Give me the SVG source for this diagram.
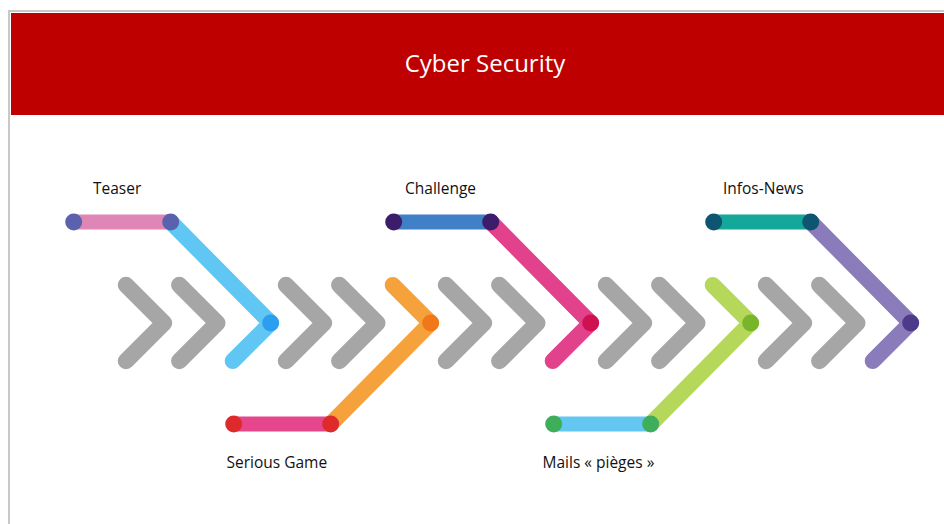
<svg xmlns="http://www.w3.org/2000/svg" width="944" height="524" viewBox="0 0 944 524">
<style>
.chev{fill:none;stroke:#a6a6a6;stroke-width:16.5;stroke-linecap:round;stroke-linejoin:round}
.arm{fill:none;stroke-width:16;stroke-linecap:round;stroke-linejoin:round}
.bar{fill:none;stroke-width:15;stroke-linecap:round}
.lbl{font-family:"Open Sans","Liberation Sans",sans-serif;font-size:15.5px;fill:#111}
.title{font-family:"Open Sans","Liberation Sans",sans-serif;font-size:24px;fill:#fff}
</style>
<rect x="0" y="0" width="944" height="524" fill="#fff"/>
<g id="frame">
<line x1="9" y1="11" x2="944" y2="11" stroke="#c8c8c8" stroke-width="2"/>
<line x1="9" y1="10" x2="9" y2="524" stroke="#c8c8c8" stroke-width="2"/>
<rect x="11" y="13" width="933" height="102" fill="#bf0000"/>
</g>
<g id="title"><text class="title" x="485" y="72" text-anchor="middle">Cyber Security</text></g>
<g id="connectors">
<path class="chev" d="M126,285 L164,323 L126,361"/>
<path class="chev" d="M179.3,285 L217.3,323 L179.3,361"/>
<path class="chev" d="M286,285 L324,323 L286,361"/>
<path class="chev" d="M339.3,285 L377.3,323 L339.3,361"/>
<path class="chev" d="M446,285 L484,323 L446,361"/>
<path class="chev" d="M499.3,285 L537.3,323 L499.3,361"/>
<path class="chev" d="M606,285 L644,323 L606,361"/>
<path class="chev" d="M659.3,285 L697.3,323 L659.3,361"/>
<path class="chev" d="M766,285 L804,323 L766,361"/>
<path class="chev" d="M819.3,285 L857.3,323 L819.3,361"/>
</g>
<g id="teaser">
<line class="bar" x1="73.7" y1="222" x2="170.7" y2="222" stroke="#df86b6"/>
<path class="arm" d="M170.7,222 L270.7,323 L232.7,361" stroke="#60c6f3"/>
<circle cx="73.7" cy="222" r="8.5" fill="#5a62ad"/>
<circle cx="170.7" cy="222" r="8.5" fill="#5a62ad"/>
<circle cx="270.7" cy="323" r="8.5" fill="#2b9ef0"/>
<text class="lbl" x="93" y="194">Teaser</text>
</g>
<g id="serious-game">
<line class="bar" x1="233.7" y1="424" x2="330.7" y2="424" stroke="#e6468c"/>
<path class="arm" d="M330.7,424 L430.7,323 L392.7,285" stroke="#f6a23c"/>
<circle cx="233.7" cy="424" r="8.5" fill="#df2a2c"/>
<circle cx="330.7" cy="424" r="8.5" fill="#df2a2c"/>
<circle cx="430.7" cy="323" r="8.5" fill="#f07818"/>
<text class="lbl" x="226.5" y="468">Serious Game</text>
</g>
<g id="challenge">
<line class="bar" x1="393.7" y1="222" x2="490.7" y2="222" stroke="#3f80c6"/>
<path class="arm" d="M490.7,222 L590.7,323 L552.7,361" stroke="#e2418c"/>
<circle cx="393.7" cy="222" r="8.5" fill="#3b1d6c"/>
<circle cx="490.7" cy="222" r="8.5" fill="#3b1d6c"/>
<circle cx="590.7" cy="323" r="8.5" fill="#d0114f"/>
<text class="lbl" x="405" y="194">Challenge</text>
</g>
<g id="mails">
<line class="bar" x1="553.7" y1="424" x2="650.7" y2="424" stroke="#63c7f2"/>
<path class="arm" d="M650.7,424 L750.7,323 L712.7,285" stroke="#b5d85b"/>
<circle cx="553.7" cy="424" r="8.5" fill="#3fae5b"/>
<circle cx="650.7" cy="424" r="8.5" fill="#3fae5b"/>
<circle cx="750.7" cy="323" r="8.5" fill="#78b52a"/>
<text class="lbl" x="542.5" y="468">Mails « pièges »</text>
</g>
<g id="infos-news">
<line class="bar" x1="713.7" y1="222" x2="810.7" y2="222" stroke="#13a89a"/>
<path class="arm" d="M810.7,222 L910.7,323 L872.7,361" stroke="#8a7bbb"/>
<circle cx="713.7" cy="222" r="8.5" fill="#0e5571"/>
<circle cx="810.7" cy="222" r="8.5" fill="#0e5571"/>
<circle cx="910.7" cy="323" r="8.5" fill="#4e3a8b"/>
<text class="lbl" x="723" y="194">Infos-News</text>
</g>
</svg>
